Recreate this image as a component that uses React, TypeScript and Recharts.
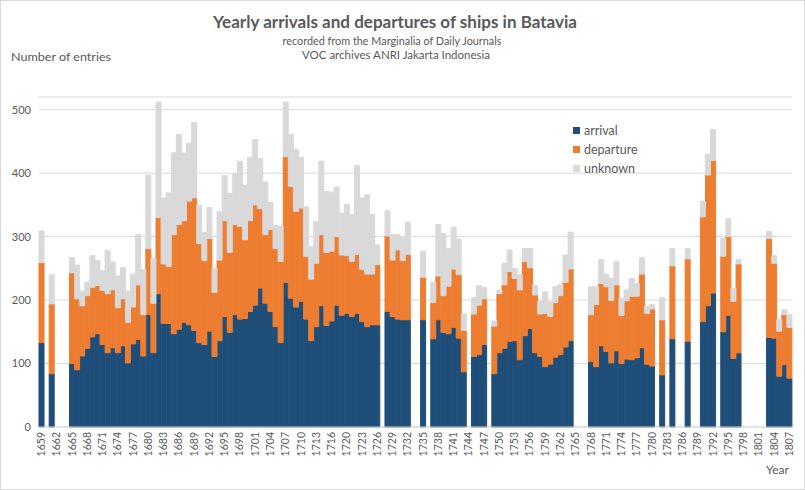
import React from "react";
import { BarChart, Bar, XAxis, YAxis, CartesianGrid } from "recharts";

// categories: 1719 has no column in the source chart
const years = [
  1659, 1660, 1661, 1662, 1663, 1664, 1665, 1666, 1667, 1668,
  1669, 1670, 1671, 1672, 1673, 1674, 1675, 1676, 1677, 1678,
  1679, 1680, 1681, 1682, 1683, 1684, 1685, 1686, 1687, 1688,
  1689, 1690, 1691, 1692, 1693, 1694, 1695, 1696, 1697, 1698,
  1699, 1700, 1701, 1702, 1703, 1704, 1705, 1706, 1707, 1708,
  1709, 1710, 1711, 1712, 1713, 1714, 1715, 1716, 1717, 1718,
  1720, 1721, 1722, 1723, 1724, 1725, 1726, 1727, 1728, 1729,
  1730, 1731, 1732, 1733, 1734, 1735, 1736, 1737, 1738, 1739,
  1740, 1741, 1742, 1743, 1744, 1745, 1746, 1747, 1748, 1749,
  1750, 1751, 1752, 1753, 1754, 1755, 1756, 1757, 1758, 1759,
  1760, 1761, 1762, 1763, 1764, 1765, 1766, 1767, 1768, 1769,
  1770, 1771, 1772, 1773, 1774, 1775, 1776, 1777, 1778, 1779,
  1780, 1781, 1782, 1783, 1784, 1785, 1786, 1787, 1788, 1789,
  1790, 1791, 1792, 1793, 1794, 1795, 1796, 1797, 1798, 1799,
  1800, 1801, 1802, 1803, 1804, 1805, 1806, 1807,
];

const arrival = [
  133, null, 84, null, null, null, 100, 90, 112, 124,
  142, 147, 130, 117, 125, 117, 128, 101, 131, 138,
  112, 177, 117, 210, 163, 163, 147, 154, 165, 161,
  152, 133, 130, 151, 111, 136, 174, 149, 177, 170,
  171, 182, 192, 219, 195, 182, 158, 133, 228, 203,
  189, 198, 170, 136, 158, 191, 160, 167, 192, 176,
  179, 174, 179, 166, 158, 161, 161, null, 182, 174,
  170, 169, 169, null, null, 169, null, 139, 169, 149,
  147, 157, 140, 87, null, 111, 114, 130, null, 84,
  117, 124, 135, 136, 106, 144, 155, 117, 111, 95,
  99, 110, 114, 126, 136, null, null, null, 103, 95,
  128, 119, 101, 120, 100, 107, 106, 109, 125, 99,
  96, null, 82, null, 139, null, null, 135, null, null,
  166, 191, 211, null, 150, 176, 108, 117, null, null,
  null, null, null, 141, 140, 80, 98, 77,
];

const departure = [
  126, null, 110, null, null, null, 143, 112, 79, 83,
  78, 76, 85, 93, 91, 71, 74, 64, 58, 86,
  65, 104, 78, 120, 94, 90, 156, 165, 160, 195,
  209, 156, 132, 146, 101, 127, 151, 126, 142, 146,
  124, 143, 158, 125, 108, 129, 123, 128, 198, 176,
  151, 147, 99, 97, 100, 112, 115, 110, 108, 95,
  91, 87, 93, 82, 83, 80, 95, null, 119, 89,
  109, 93, 103, null, null, 67, null, 57, 69, 58,
  75, 92, 100, 65, null, 67, 78, 72, null, 75,
  93, 100, 110, 98, 110, 117, 96, 91, 67, 84,
  75, 86, 93, 102, 113, null, null, null, 74, 98,
  98, 102, 98, 104, 76, 92, 100, 97, 116, 80,
  90, null, 87, null, 115, null, null, 130, null, null,
  165, 206, 209, null, 119, 124, 90, 140, null, null,
  null, null, null, 156, 118, 71, 79, 80,
];

const unknown = [
  50, null, 46, null, null, null, 24, 53, 23, 21,
  50, 39, 31, 68, 44, 50, 49, 49, 52, 79,
  71, 116, 70, 182, 104, 116, 129, 142, 107, 91,
  119, 60, 45, 49, 38, 76, 71, 93, 80, 103,
  86, 100, 103, 79, 83, 43, 37, 55, 86, 82,
  97, 80, 78, 51, 66, 116, 96, 93, 78, 66,
  81, 74, 140, 113, 125, 94, 31, null, 40, 40,
  24, 36, 51, null, null, 41, null, 32, 81, 98,
  59, 66, 56, 26, null, 26, 31, 18, null, 8,
  6, 34, 34, 16, 24, 20, 30, 15, 20, 34,
  23, 25, 17, 43, 58, null, null, null, 44, 28,
  38, 20, 35, 37, 27, 17, 28, 20, 26, 11,
  7, null, 35, null, 27, null, null, 16, null, null,
  25, 33, 49, null, 28, 28, 21, 7, null, null,
  null, null, null, 11, 12, 18, 8, 20,
];

const yTicks = [0, 100, 200, 300, 400, 500];

const series = [
  { key: "arrival", color: "#1f4e79" },
  { key: "departure", color: "#ed7d31" },
  { key: "unknown", color: "#d9d9d9" },
];

const FONT = "Lato, 'Liberation Sans', sans-serif";
const TEXT = "#595959";

const data = years.map((y, i) => ({
  year: String(y),
  arrival: arrival[i],
  departure: departure[i],
  unknown: unknown[i],
}));

function YearTick(props: any) {
  const { x, y, payload } = props;
  const top = y - 3;
  return (
    <text
      x={x}
      y={top}
      dy={3.5}
      transform={`rotate(-90, ${x}, ${top})`}
      textAnchor="end"
      fontSize={10.5}
      fontFamily={FONT}
      fill={TEXT}
    >
      {payload.value}
    </text>
  );
}

export default function App() {
  return (
    <div style={{ position: "relative", width: 805, height: 490, background: "#fff" }}>
      <style>{`body{margin:0}`}</style>
      <BarChart
        width={805}
        height={490}
        data={data}
        margin={{ top: 97, right: 13, left: 0, bottom: 0 }}
        barCategoryGap={0}
        barGap={0}
      >
        <CartesianGrid vertical={false} stroke="#d9d9d9" />
        <XAxis
          dataKey="year"
          interval={2}
          height={63}
          tick={<YearTick />}
          tickLine={false}
          axisLine={{ stroke: "#d9d9d9" }}
        />
        <YAxis
          domain={[0, 520]}
          ticks={yTicks}
          width={39}
          axisLine={false}
          tickLine={false}
          tick={{ fontSize: 11, fill: TEXT, fontFamily: FONT }}
        />
        {series.map((s) => (
          <Bar
            key={s.key}
            dataKey={s.key}
            stackId="a"
            fill={s.color}
            stroke={s.color}
            strokeWidth={1}
            isAnimationActive={false}
          />
        ))}
      </BarChart>

      <svg
        width={805}
        height={490}
        style={{ position: "absolute", left: 0, top: 0, pointerEvents: "none" }}
        fontFamily={FONT}
        fill={TEXT}
      >
        <text x={395} y={28} textAnchor="middle" fontSize={17} fontWeight="bold" textLength={364} lengthAdjust="spacingAndGlyphs">
          Yearly arrivals and departures of ships in Batavia
        </text>
        <text x={392} y={45} textAnchor="middle" fontSize={11.5} textLength={219} lengthAdjust="spacingAndGlyphs">
          recorded from the Marginalia of Daily Journals
        </text>
        <text x={396} y={59} textAnchor="middle" fontSize={11.5} textLength={188} lengthAdjust="spacingAndGlyphs">
          VOC archives ANRI Jakarta Indonesia
        </text>
        <text x={11} y={61} fontSize={12} textLength={100} lengthAdjust="spacingAndGlyphs">
          Number of entries
        </text>
        <text x={766} y={474} fontSize={12}>
          Year
        </text>
        {series.map((s, i) => (
          <g key={s.key}>
            <rect x={573} y={127 + i * 19} width={7} height={7} fill={s.color} />
            <text x={584} y={134.5 + i * 19} fontSize={12.5}>
              {s.key}
            </text>
          </g>
        ))}
        <rect x={0.5} y={0.5} width={804} height={489} fill="none" stroke="#d9d9d9" />
      </svg>
    </div>
  );
}
